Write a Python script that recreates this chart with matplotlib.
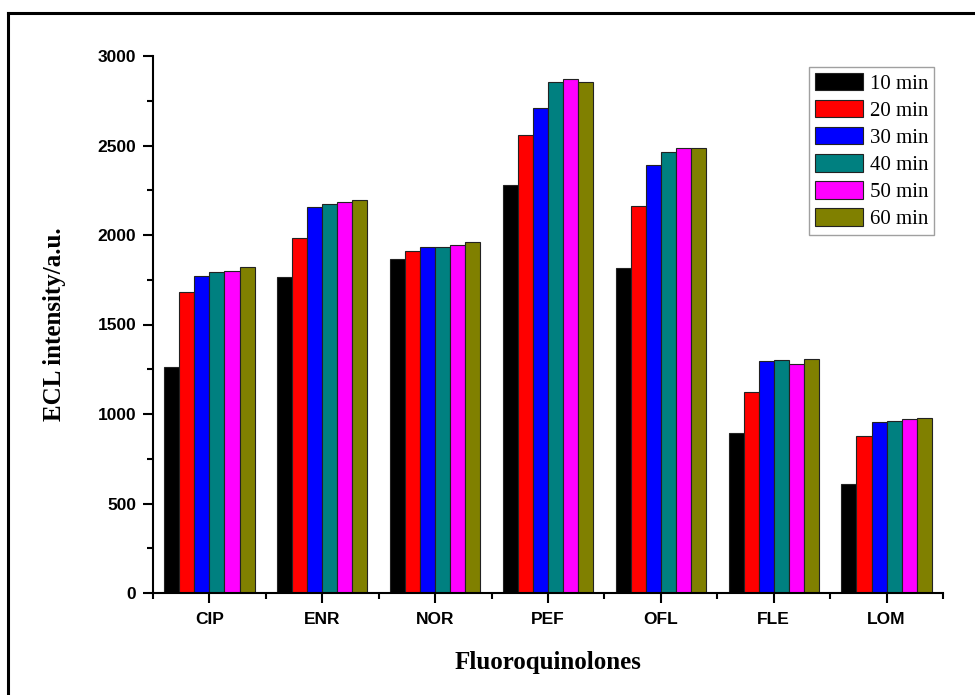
import numpy as np
import matplotlib
matplotlib.use('Agg')
import matplotlib.pyplot as plt
from matplotlib.ticker import MultipleLocator
from matplotlib.lines import Line2D

drugs = ['CIP', 'ENR', 'NOR', 'PEF', 'OFL', 'FLE', 'LOM']
times = ['10 min', '20 min', '30 min', '40 min', '50 min', '60 min']
colors = ['#000000', '#ff0000', '#0000ff', '#008080', '#ff00ff', '#808000']

# ECL intensity, one list per incubation time
t10 = [1263, 1766, 1866, 2280, 1816, 896, 610]
t20 = [1679, 1985, 1911, 2559, 2163, 1123, 879]
t30 = [1772, 2154, 1931, 2708, 2390, 1294, 953]
t40 = [1795, 2173, 1931, 2852, 2465, 1301, 961]
t50 = [1801, 2186, 1946, 2870, 2485, 1277, 970]
t60 = [1820, 2197, 1963, 2852, 2485, 1310, 978]
series = [t10, t20, t30, t40, t50, t60]

fig = plt.figure(figsize=(9.75, 6.95), dpi=100)
ax = fig.add_axes([153/975, 1 - 593/695, 790/975, 537/695])

x = np.arange(len(drugs))
w = 0.8 / len(series)
for i, vals in enumerate(series):
    ax.bar(x - 0.4 + w * (i + 0.5), vals, width=w, color=colors[i],
           edgecolor='#222222', linewidth=0.8, label=times[i])

ax.set_xlim(-0.5, 6.5)
ax.set_ylim(0, 3000)
ax.set_xticks(x)
ax.set_xticklabels(drugs)
ax.set_xticks(np.arange(-0.5, 7, 1), minor=True)
ax.yaxis.set_major_locator(MultipleLocator(500))
ax.yaxis.set_minor_locator(MultipleLocator(250))

for s in ['top', 'right']:
    ax.spines[s].set_visible(False)
for s in ['left', 'bottom']:
    ax.spines[s].set_linewidth(1.5)

ax.tick_params(which='major', direction='out', length=7, width=1.5)
ax.tick_params(which='minor', direction='out', length=4.3, width=1.5)
ax.tick_params(axis='y', pad=5)
ax.tick_params(axis='x', pad=7)
for lab in ax.get_xticklabels() + ax.get_yticklabels():
    lab.set_fontfamily('Liberation Sans')
    lab.set_fontweight('bold')
    lab.set_fontsize(12.5)

fig.text(548/975, 1 - 662/695, 'Fluoroquinolones', ha='center', va='center',
         family='Liberation Serif', weight='bold', fontsize=18)
fig.text(55/975, 1 - 324/695, 'ECL intensity/a.u.', ha='center', va='center',
         rotation=90, family='Liberation Serif', weight='bold', fontsize=18)

leg = ax.legend(loc='upper right', bbox_to_anchor=(0.989, 0.98), borderaxespad=0,
                prop={'family': 'Liberation Serif', 'size': 15},
                handlelength=2.3, handleheight=0.9, handletextpad=0.3,
                labelspacing=0.3, borderpad=0.3, fancybox=False)
leg.get_frame().set_edgecolor('#888888')
leg.get_frame().set_linewidth(1.0)

# outer frame lines (top and left)
fig.add_artist(Line2D([7.5/975, 1], [1 - 12.5/695] * 2, color='black', lw=2.2,
                      transform=fig.transFigure))
fig.add_artist(Line2D([7.5/975] * 2, [0, 1 - 12.5/695], color='black', lw=2.2,
                      transform=fig.transFigure))

fig.savefig('out.png', dpi=100)
